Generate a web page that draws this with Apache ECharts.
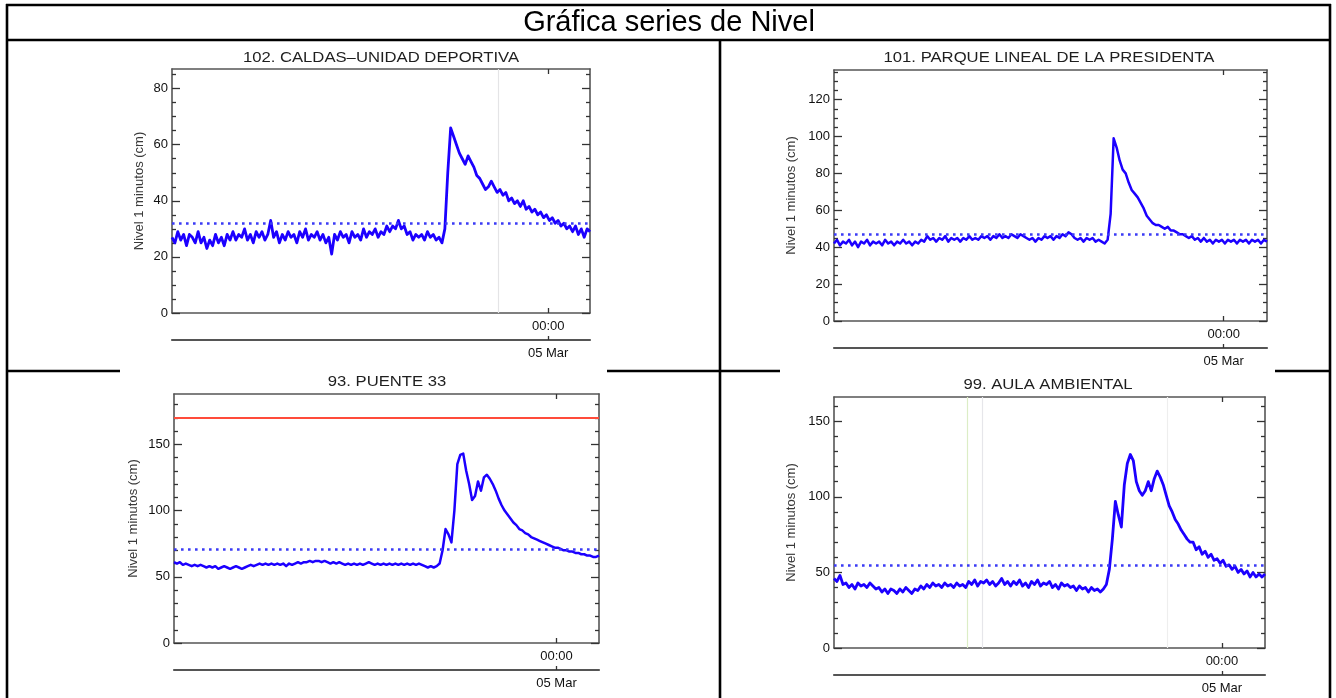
<!DOCTYPE html>
<html><head><meta charset="utf-8">
<script src="https://cdn.jsdelivr.net/npm/echarts@6/dist/echarts.min.js"></script>
<style>html,body{margin:0;padding:0;background:#fff;}#c{width:1336px;height:698px;}</style>
</head><body><div id="c"></div>
<script>
// ---- data ----
const mainTitle = 'Gráfica series de Nivel';
const stationNames = ['102. CALDAS\u2013UNIDAD DEPORTIVA', '101. PARQUE LINEAL DE LA PRESIDENTA', '93. PUENTE 33', '99. AULA AMBIENTAL'];
const yAxisName = 'Nivel 1 minutos (cm)';
const startTime = '2023-03-04T02:24:00';
const stepMinutes = 10;
const endTime = '2023-03-05T02:24:00';
const midnightTick = ['2023-03-05T00:00:00'];

const caldas = [27,25,29,26,28,24,28,27,25,29, 25,27,23,26,24,28,25,27,24,28, 26,29,26,28,27,30,26,28,25,29,
  27,29,26,28,33,27,29,25,28,26, 29,27,28,25,29,27,30,26,28,27, 29,26,28,25,27,21,28,26,29,27,
  28,25,29,27,28,26,30,27,29,28, 30,27,29,28,31,29,31,30,33,30, 31,28,29,26,28,27,28,26,29,27,
  28,26,27,25,30,50,66,63,60,57, 55,53,56,54,52,49,48,46,44,45, 47,45,43,44,42,43,40,41,39,40,
  38,40,37,38,36,37,35,36,34,35, 33,34,32,33,31,32,30,31,29,31, 28,30,27,30,29];
const parque = [42,44,41,43,42,44,41,43,40,43, 42,44,41,43,42,43,41,44,42,43, 41,43,42,44,42,43,41,43,42,44,
  43,46,44,45,43,45,44,46,43,45, 44,45,43,45,44,46,44,45,44,46, 45,46,44,46,45,47,45,46,45,47,
  46,45,47,46,45,44,45,43,45,44, 46,45,46,44,46,45,47,46,48,47, 45,44,45,43,45,44,45,43,44,43,
  42,44,58,99,94,87,82,80,75,71, 69,67,64,61,57,55,53,52,52,51, 50,51,49,49,48,47,47,46,45,46,
  44,45,43,45,43,44,42,44,43,44, 42,44,43,44,42,44,43,44,42,44, 43,44,42,44,43];
const puente = [61,60,61,59,60,59,58,59,58,59, 58,57,58,57,58,56,57,58,57,56, 57,58,57,56,57,58,59,58,59,60,
  59,60,59,60,59,60,59,60,58,60, 59,60,61,60,61,61,62,61,62,62, 61,62,61,60,61,60,61,60,59,60,
  59,60,59,60,59,60,61,60,59,60, 59,60,59,60,59,60,59,60,59,60, 59,60,59,60,59,58,57,58,57,58,
  60,70,86,82,76,100,135,142,143,130, 120,108,111,122,115,125,127,124,120,115, 109,104,100,97,94,91,89,86,85,83,
  82,80,79,78,77,76,75,74,73,72, 72,71,70,70,69,69,68,68,67,67, 66,66,65,65,66];
const aula = [46,44,48,42,43,40,42,39,43,41, 42,40,43,41,39,40,37,39,36,39, 38,36,39,37,40,38,36,39,38,41,
  39,42,40,43,41,42,40,43,41,42, 40,43,41,42,40,44,42,45,41,44, 43,45,42,44,41,43,46,42,44,41,
  44,42,45,41,43,40,44,42,45,41, 43,42,44,40,42,39,43,41,42,40, 41,38,41,39,40,37,40,38,39,37,
  39,42,52,72,97,88,80,108,122,128, 124,110,104,101,104,110,104,112,117,113, 108,101,94,90,85,82,78,75,72,70,
  70,65,67,62,64,60,62,58,59,56, 58,54,55,52,54,50,52,49,51,47, 50,47,49,47,49];
const seriesValues = [caldas, parque, puente, aula];

const thresholds = [32, 47, 71, 55];          // dotted reference level
const alarmLevels = [null, null, 170, null];  // red line
const yMax = [87, 136, 188, 166];
const yMajorTicks = [[0,20,40,60,80],[0,20,40,60,80,100,120],[0,50,100,150],[0,50,100,150]];
const yMinorStep = [5, 5, 10, 10];
const faintLines = [
  [['2023-03-04T21:07:00', '#e4e4e6']],
  [],
  [],
  [['2023-03-04T09:49:00', '#dcedc6'], ['2023-03-04T10:40:00', '#e6e6ea'], ['2023-03-04T20:56:00', '#eeeeee']]
];

// ---- layout (pixels) ----
const grids = [
  {left:172, top:69, width:418, height:244, nameGap:26, lw:2.8},
  {left:834, top:70, width:433, height:251, nameGap:36, lw:2.5},
  {left:174, top:394, width:425, height:249, nameGap:34, lw:2.5},
  {left:834, top:397, width:431, height:251, nameGap:36, lw:2.8}
];
const titlePos = [[381,58],[1049,58],[387,382],[1048,385]];

const FONT = '"Liberation Sans", Arial, Helvetica, sans-serif';
const t0 = new Date(startTime).getTime();
const t1 = new Date(endTime).getTime();
const tMid = midnightTick.map(s => new Date(s).getTime());
const MONTHS = ['Jan','Feb','Mar','Apr','May','Jun','Jul','Aug','Sep','Oct','Nov','Dec'];
const pad = n => (n < 10 ? '0' : '') + n;
const fmtTime = v => { const d = new Date(v); return pad(d.getHours()) + ':' + pad(d.getMinutes()); };
const fmtDate = v => { const d = new Date(v); return pad(d.getDate()) + ' ' + MONTHS[d.getMonth()]; };

const axisLineStyle = {color:'#555', width:1.6};
const tickStyle = {color:'#333', width:1.3};
const labelStyle = {fontSize:13, color:'#111', fontFamily:FONT};

const xAxes = [], yAxes = [], series = [];
grids.forEach((g, gi) => {
  const base = {gridIndex:gi, type:'value', min:t0, max:t1, splitLine:{show:false}, minorTick:{show:false}};
  xAxes.push(Object.assign({}, base, {position:'bottom',
    axisLine:{show:true, onZero:false, lineStyle:axisLineStyle},
    axisTick:{show:true, inside:true, length:5, customValues:tMid, lineStyle:tickStyle},
    axisLabel:Object.assign({show:true, customValues:tMid, formatter:fmtTime, margin:7}, labelStyle)}));
  xAxes.push(Object.assign({}, base, {position:'top',
    axisLine:{show:true, onZero:false, lineStyle:axisLineStyle},
    axisTick:{show:true, inside:true, length:5, customValues:tMid, lineStyle:tickStyle},
    axisLabel:{show:false}}));
  xAxes.push(Object.assign({}, base, {position:'bottom', offset:27,
    axisLine:{show:true, onZero:false, lineStyle:{color:'#555', width:2.2}},
    axisTick:{show:true, inside:true, length:4, customValues:tMid, lineStyle:tickStyle},
    axisLabel:Object.assign({show:true, customValues:tMid, formatter:fmtDate, margin:7}, labelStyle)}));

  const minor = [];
  for (let v = yMinorStep[gi]; v < yMax[gi]; v += yMinorStep[gi]) if (yMajorTicks[gi].indexOf(v) < 0) minor.push(v);
  const yb = {gridIndex:gi, type:'value', min:0, max:yMax[gi], splitLine:{show:false}};
  yAxes.push(Object.assign({}, yb, {position:'left',
    axisLine:{show:true, onZero:false, lineStyle:axisLineStyle},
    axisTick:{show:true, inside:true, length:8, customValues:yMajorTicks[gi], lineStyle:tickStyle},
    axisLabel:Object.assign({show:true, customValues:yMajorTicks[gi], margin:4}, labelStyle),
    name:yAxisName, nameLocation:'middle', nameGap:g.nameGap, nameRotate:90,
    nameTextStyle:{fontSize:13, color:'#3a3a3a', fontFamily:FONT}}));
  yAxes.push(Object.assign({}, yb, {position:'left', axisLine:{show:false},
    axisTick:{show:true, inside:true, length:4, customValues:minor, lineStyle:tickStyle}, axisLabel:{show:false}}));
  yAxes.push(Object.assign({}, yb, {position:'right',
    axisLine:{show:true, onZero:false, lineStyle:axisLineStyle},
    axisTick:{show:true, inside:true, length:8, customValues:yMajorTicks[gi], lineStyle:tickStyle}, axisLabel:{show:false}}));
  yAxes.push(Object.assign({}, yb, {position:'right', axisLine:{show:false},
    axisTick:{show:true, inside:true, length:4, customValues:minor, lineStyle:tickStyle}, axisLabel:{show:false}}));

  const vals = seriesValues[gi];
  const data = vals.map((v, i) => [t0 + i * stepMinutes * 60000, v]);
  const mlData = faintLines[gi].map(f => ({xAxis:new Date(f[0]).getTime(), lineStyle:{color:f[1], width:1.2, type:'solid'}}));
  series.push({type:'line', xAxisIndex:gi*3, yAxisIndex:gi*4, data:data, showSymbol:false, symbol:'none',
    lineStyle:{color:'#1c00ff', width:g.lw, join:'round'}, z:3, animation:false,
    markLine:{silent:true, symbol:'none', label:{show:false}, data:mlData, z:1}});
  const refData = [{yAxis:thresholds[gi], lineStyle:{color:'#3b3bf5', width:2.6, type:[2.6,4.4]}}];
  if (alarmLevels[gi] != null) refData.push({yAxis:alarmLevels[gi], lineStyle:{color:'#ff4b3a', width:2, type:'solid'}});
  series.push({type:'line', xAxisIndex:gi*3, yAxisIndex:gi*4, data:[], z:4, animation:false,
    markLine:{silent:true, symbol:'none', label:{show:false}, data:refData}});
});

// ---- frame & texts ----
const B = '#000', BW = 2.6;
const line = (x1,y1,x2,y2) => ({type:'line', shape:{x1,y1,x2,y2}, style:{stroke:B, lineWidth:BW}, z:100, silent:true});
const graphic = [
  line(6,5,1331,5), line(7,4,7,698), line(1330,4,1330,698), line(6,40,1331,40), line(720,40,720,698),
  line(6,371,120,371), line(607,371,780,371), line(1275,371,1331,371),
  {type:'text', x:669, y:23, z:100, style:{text:mainTitle, fontSize:29, fontFamily:FONT, fill:'#000', align:'center', verticalAlign:'middle', textAlign:'center', textVerticalAlign:'middle'}}
];
stationNames.forEach((n, i) => graphic.push({type:'text', x:titlePos[i][0], y:titlePos[i][1], z:100, scaleX:1.19,
  style:{text:n, fontSize:14, fontFamily:FONT, fill:'#1e1e1e', align:'center', verticalAlign:'middle', textAlign:'center', textVerticalAlign:'middle'}}));

const chart = echarts.init(document.getElementById('c'));
chart.setOption({
  animation:false,
  backgroundColor:'#fff',
  grid:grids.map(g => ({left:g.left, top:g.top, width:g.width, height:g.height, containLabel:false})),
  xAxis:xAxes, yAxis:yAxes, series:series, graphic:graphic
});
</script></body></html>
